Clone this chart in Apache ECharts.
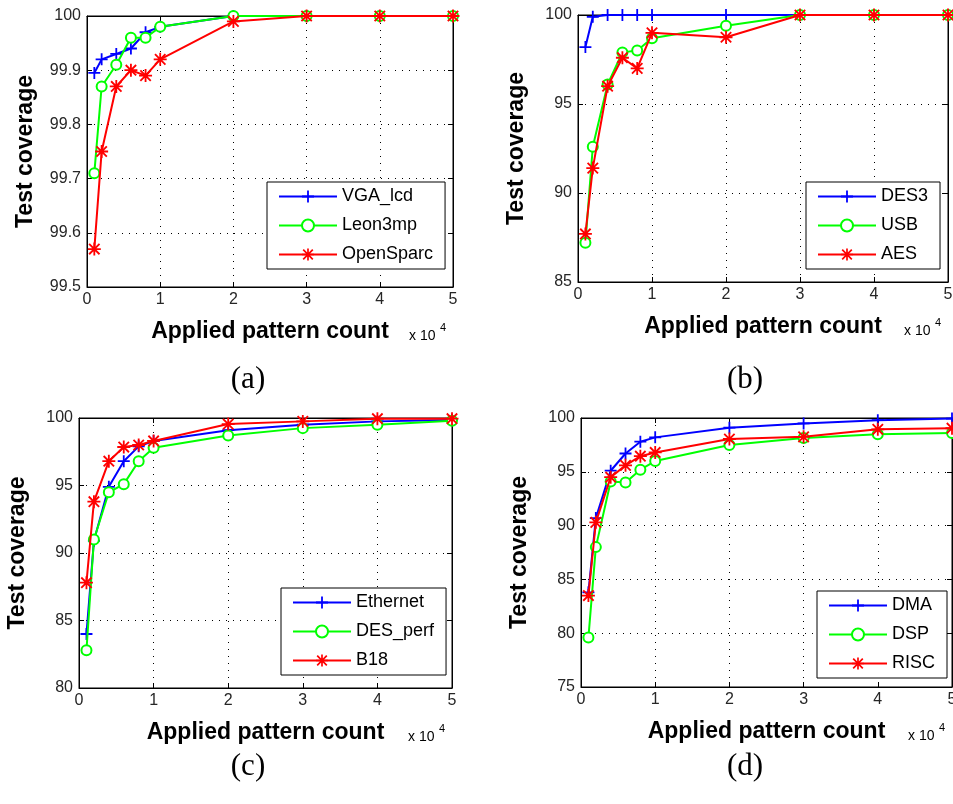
<!DOCTYPE html>
<html>
<head>
<meta charset="utf-8">
<script src="https://cdn.jsdelivr.net/npm/echarts@6/dist/echarts.min.js"></script>
<style>
  html, body { margin: 0; padding: 0; background: #fff; }
  #chart { width: 953px; height: 804px; }
</style>
</head>
<body>
<div id="chart"></div>
<script>
// Applied pattern counts (x values shared by every panel)
const patternCount = [1000, 2000, 4000, 6000, 8000, 10000, 20000, 30000, 40000, 50000];
const xTickLabels = ['0', '1', '2', '3', '4', '5'];

// (a) test coverage, %
const vgaLcd    = [99.895, 99.92, 99.93, 99.94, 99.97, 99.98, 100, 100, 100, 100];
const leon3mp   = [99.71, 99.87, 99.91, 99.96, 99.96, 99.98, 100, 100, 100, 100];
const openSparc = [99.57, 99.75, 99.87, 99.90, 99.89, 99.92, 99.99, 100, 100, 100];
const yTicksA   = ['99.5', '99.6', '99.7', '99.8', '99.9', '100'];

// (b)
const des3 = [98.2, 99.9, 100, 100, 100, 100, 100, 100, 100, 100];
const usb  = [87.2, 92.6, 96.1, 97.9, 98.0, 98.7, 99.4, 100, 100, 100];
const aes  = [87.7, 91.4, 96.0, 97.6, 97.0, 99.0, 98.75, 100, 100, 100];
const yTicksB = ['85', '90', '95', '100'];

// (c)
const ethernet = [84.0, 90.9, 94.9, 96.8, 97.9, 98.3, 99.1, 99.5, 99.75, 99.85];
const desPerf  = [82.8, 91.0, 94.5, 95.1, 96.8, 97.8, 98.7, 99.25, 99.5, 99.8];
const b18      = [87.8, 93.8, 96.8, 97.85, 98.0, 98.3, 99.55, 99.75, 99.95, 99.95];
const yTicksC  = ['80', '85', '90', '95', '100'];

// (d)
const dma  = [83.8, 90.7, 95.1, 96.7, 97.8, 98.2, 99.1, 99.5, 99.8, 99.95];
const dsp  = [79.6, 88.0, 94.1, 94.0, 95.2, 96.0, 97.5, 98.15, 98.5, 98.6];
const risc = [83.5, 90.3, 94.5, 95.6, 96.45, 96.8, 98.05, 98.25, 98.95, 99.05];
const yTicksD = ['75', '80', '85', '90', '95', '100'];

const panelTags = ['(a)', '(b)', '(c)', '(d)'];
const seriesNames = [
  ['VGA_lcd', 'Leon3mp', 'OpenSparc'],
  ['DES3', 'USB', 'AES'],
  ['Ethernet', 'DES_perf', 'B18'],
  ['DMA', 'DSP', 'RISC']
];
const seriesValues = [
  [vgaLcd, leon3mp, openSparc],
  [des3, usb, aes],
  [ethernet, desPerf, b18],
  [dma, dsp, risc]
];
const yTickSets = [yTicksA, yTicksB, yTicksC, yTicksD];

// Layout of the four plot boxes
const boxes = [
  { left: 87,  top: 16,  width: 366, height: 271 },
  { left: 578, top: 15,  width: 370, height: 267 },
  { left: 79,  top: 418, width: 373, height: 270 },
  { left: 581, top: 418, width: 371, height: 269 }
];
const legendPos = [
  { left: 267, top: 182 },
  { left: 806, top: 182 },
  { left: 281, top: 588 },
  { left: 817, top: 591 }
];
const tagPos = [[248, 380], [745, 380], [248, 767], [745, 767]];

// Marker shapes: plus, hollow circle, asterisk
const plusPath = 'path://M4.25,0h1.5v10h-1.5z M0,4.25h10v1.5h-10z';
const starPath = 'path://M4.3,0h1.4v10h-1.4z M0,4.3h10v1.4h-10z ' +
  'M1.5,0.5L9.5,8.5L8.5,9.5L0.5,1.5z M8.5,0.5L9.5,1.5L1.5,9.5L0.5,8.5z';
const lineColors = ['#0000ff', '#00ff00', '#ff0000'];
const markers = [plusPath, 'emptyCircle', starPath];
const markerSizes = [12, 10, 13];

const FONT = "'Liberation Sans', Arial, Helvetica, sans-serif";
const gridLine = { show: true, lineStyle: { color: '#000', width: 1, type: [1, 6] } };

const grids = [], xAxes = [], yAxes = [], series = [], legends = [], graphics = [];

boxes.forEach((b, p) => {
  grids.push(Object.assign({ show: true, borderColor: '#000', borderWidth: 1,
    backgroundColor: '#fff', containLabel: false, outerBoundsMode: 'none' }, b));

  const yTicks = yTickSets[p];
  const yMin = Number(yTicks[0]);
  const yMax = Number(yTicks[yTicks.length - 1]);
  const yStep = Number(yTicks[1]) - yMin;

  // bottom x axis
  xAxes.push({
    type: 'value', gridIndex: p, position: 'bottom', min: 0, max: 50000, interval: 10000,
    axisLine: { show: true, onZero: false, lineStyle: { color: '#000', width: 1 } },
    axisTick: { show: true, inside: true, length: 5, lineStyle: { color: '#000' } },
    axisLabel: { show: true, margin: 5, color: '#262626', fontSize: 16, fontFamily: FONT,
      formatter: v => xTickLabels[Math.round(v / 10000)] },
    splitLine: gridLine,
    name: 'Applied pattern count', nameLocation: 'middle', nameGap: 33,
    nameTextStyle: { fontSize: 23, fontWeight: 'bold', fontFamily: FONT, color: '#000' }
  });
  // top x axis (ticks only)
  xAxes.push({
    type: 'value', gridIndex: p, position: 'top', min: 0, max: 50000, interval: 10000,
    axisLine: { show: true, onZero: false, lineStyle: { color: '#000', width: 1 } },
    axisTick: { show: true, inside: true, length: 5, lineStyle: { color: '#000' } },
    axisLabel: { show: false }, splitLine: { show: false }
  });
  // left y axis
  yAxes.push({
    type: 'value', gridIndex: p, position: 'left', min: yMin, max: yMax, interval: yStep,
    axisLine: { show: true, onZero: false, lineStyle: { color: '#000', width: 1 } },
    axisTick: { show: true, inside: true, length: 5, lineStyle: { color: '#000' } },
    axisLabel: { show: true, margin: 6, color: '#262626', fontSize: 16, fontFamily: FONT,
      formatter: v => yTicks[Math.round((v - yMin) / yStep)] },
    splitLine: gridLine,
    name: 'Test coverage', nameLocation: 'middle', nameGap: 50, nameRotate: 90,
    nameTextStyle: { fontSize: 23, fontWeight: 'bold', fontFamily: FONT, color: '#000' }
  });
  // right y axis (ticks only)
  yAxes.push({
    type: 'value', gridIndex: p, position: 'right', min: yMin, max: yMax, interval: yStep,
    axisLine: { show: true, onZero: false, lineStyle: { color: '#000', width: 1 } },
    axisTick: { show: true, inside: true, length: 5, lineStyle: { color: '#000' } },
    axisLabel: { show: false }, splitLine: { show: false }
  });

  seriesNames[p].forEach((name, k) => {
    series.push({
      type: 'line', name: name,
      xAxisIndex: 2 * p, yAxisIndex: 2 * p,
      data: patternCount.map((x, i) => [x, seriesValues[p][k][i]]),
      symbol: markers[k], symbolSize: markerSizes[k], showAllSymbol: true,
      clip: false,
      lineStyle: { color: lineColors[k], width: 2 },
      itemStyle: { color: lineColors[k], borderColor: lineColors[k], borderWidth: k === 1 ? 1.5 : 0 },
      emphasis: { disabled: true },
      z: 3 + k
    });
  });

  legends.push({
    show: true, orient: 'vertical',
    left: legendPos[p].left, top: legendPos[p].top,
    data: seriesNames[p],
    itemWidth: 58, itemHeight: 15, itemGap: 10,
    padding: [5, 12, 5, 11],
    backgroundColor: '#fff', borderColor: '#000', borderWidth: 1,
    textStyle: { fontSize: 18, fontFamily: FONT, color: '#000', lineHeight: 19 },
    selectedMode: false,
    z: 10
  });

  const axisBottom = b.top + b.height;
  const axisRight = b.left + b.width;
  graphics.push({
    type: 'text', x: axisRight - 44, y: axisBottom + 49,
    style: { text: 'x 10', font: '14px ' + FONT, fill: '#000', align: 'left', verticalAlign: 'middle' }
  });
  graphics.push({
    type: 'text', x: axisRight - 13, y: axisBottom + 41,
    style: { text: '4', font: '11px ' + FONT, fill: '#000', align: 'left', verticalAlign: 'middle' }
  });
  graphics.push({
    type: 'text', x: tagPos[p][0], y: tagPos[p][1],
    style: { text: panelTags[p], font: "31px 'Liberation Serif', 'Times New Roman', serif",
      fill: '#000', align: 'center', verticalAlign: 'middle' }
  });
});

const chart = echarts.init(document.getElementById('chart'), null, { renderer: 'canvas' });
chart.setOption({
  animation: false,
  backgroundColor: '#fff',
  grid: grids,
  xAxis: xAxes,
  yAxis: yAxes,
  legend: legends,
  series: series,
  graphic: graphics
});
</script>
</body>
</html>
